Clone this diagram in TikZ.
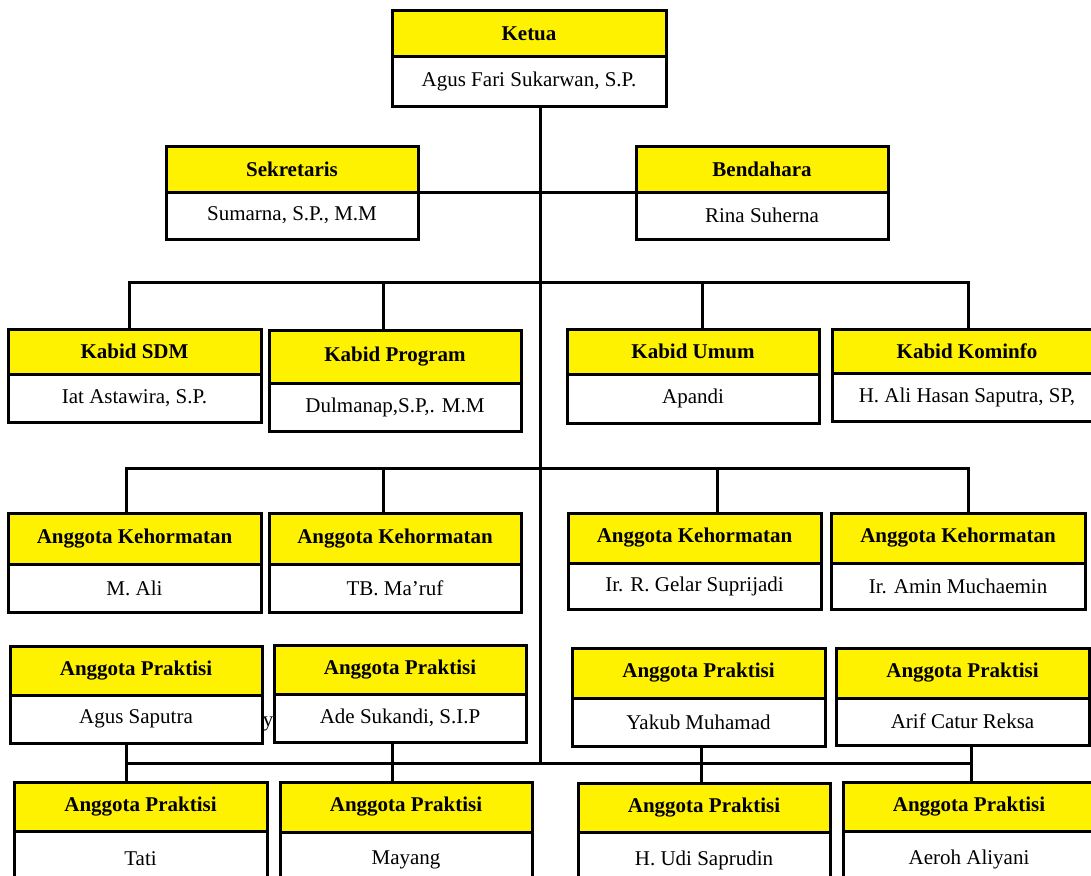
\documentclass[tikz,border=0pt]{standalone}
\usepackage{fontspec}
\setmainfont{Liberation Serif}
\usetikzlibrary{positioning}

\begin{document}
\begin{tikzpicture}[
        x=1pt, y=-1pt,
        node distance=0pt,
        head/.style={rectangle, draw, line width=3pt, fill=yellow, outer sep=0pt, anchor=north west, font=\fontsize{21}{24}\selectfont\bfseries, minimum width=253pt, minimum height=48pt},
        body/.style={rectangle, draw, line width=3pt, fill=white, outer sep=0pt, font=\fontsize{21}{24}\selectfont, minimum width=253pt, minimum height=48pt},
        link/.style={line width=3pt}
    ]
    \path[use as bounding box, clip] (0,0) rectangle (1091,875);

    % stray letter behind the boxes
    \node[font=\fontsize{21}{24}\selectfont] (stray) at (268,724) {y};

    % Level 1: Ketua
    \node[head, minimum width=274pt, minimum height=46pt] (ketua) at (392,11) {Ketua};
    \node[body, minimum width=274pt, minimum height=49pt, below=of ketua] (ketuaN) {Agus Fari Sukarwan, S.P.};

    % Level 2: Sekretaris and Bendahara
    \node[head, minimum width=252pt, minimum height=46pt] (sekr) at (166,146) {Sekretaris};
    \node[body, minimum width=252pt, minimum height=47pt, below=of sekr] (sekrN) {Sumarna, S.P., M.M};
    \node[head, minimum width=252pt, minimum height=46pt] (bend) at (636,146) {Bendahara};
    \node[body, minimum width=252pt, minimum height=47pt, below=of bend] (bendN) {Rina Suherna};

    % Level 3: Kabid
    \node[head, minimum height=45pt] (sdm) at (8,329) {Kabid SDM};
    \node[body, below=of sdm] (sdmN) {Iat Astawira, S.P.};
    \node[head, minimum width=252pt, minimum height=53pt] (program) at (269,330) {Kabid Program};
    \node[body, minimum width=252pt, below=of program] (programN) {Dulmanap,S.P,. M.M};
    \node[head, minimum width=252pt, minimum height=45pt] (umum) at (567,329) {Kabid Umum};
    \node[body, minimum width=252pt, minimum height=49pt, below=of umum] (umumN) {Apandi};
    \node[head, minimum width=270pt, minimum height=44pt] (kominfo) at (832,329) {Kabid Kominfo};
    \node[body, minimum width=270pt, below=of kominfo] (kominfoN) {H. Ali Hasan Saputra, SP,};

    % Level 4: Anggota Kehormatan
    \node[head, minimum height=51pt] (hor1) at (8,513) {Anggota Kehormatan};
    \node[body, below=of hor1] (hor1N) {M. Ali};
    \node[head, minimum width=252pt, minimum height=51pt] (hor2) at (269,513) {Anggota Kehormatan};
    \node[body, minimum width=252pt, below=of hor2] (hor2N) {TB. Ma'ruf};
    \node[head, minimum height=50pt] (hor3) at (568,513) {Anggota Kehormatan};
    \node[body, minimum height=46pt, below=of hor3] (hor3N) {Ir. R. Gelar Suprijadi};
    \node[head, minimum width=254pt, minimum height=50pt] (hor4) at (831,513) {Anggota Kehormatan};
    \node[body, minimum width=254pt, minimum height=46pt, below=of hor4] (hor4N) {Ir. Amin Muchaemin};

    % Level 5: Anggota Praktisi (upper row)
    \node[head, minimum width=252pt, minimum height=49pt] (agus) at (10,646) {Anggota Praktisi};
    \node[body, minimum width=252pt, below=of agus] (agusN) {Agus Saputra};
    \node[head, minimum width=252pt, minimum height=49pt] (ade) at (274,645) {Anggota Praktisi};
    \node[body, minimum width=252pt, below=of ade] (adeN) {Ade Sukandi, S.I.P};
    \node[head, minimum height=50pt] (yakub) at (572,648) {Anggota Praktisi};
    \node[body, below=of yakub] (yakubN) {Yakub Muhamad};
    \node[head, minimum height=50pt] (arif) at (836,648) {Anggota Praktisi};
    \node[body, minimum height=47pt, below=of arif] (arifN) {Arif Catur Reksa};

    % Level 6: Anggota Praktisi (lower row)
    \node[head, minimum height=49pt] (tati) at (14,782) {Anggota Praktisi};
    \node[body, minimum height=56pt, below=of tati] (tatiN) {Tati};
    \node[head, minimum width=252pt, minimum height=50pt] (mayang) at (280,782) {Anggota Praktisi};
    \node[body, minimum width=252pt, minimum height=56pt, below=of mayang] (mayangN) {Mayang};
    \node[head, minimum width=252pt, minimum height=49pt] (udi) at (578,783) {Anggota Praktisi};
    \node[body, minimum width=252pt, minimum height=56pt, below=of udi] (udiN) {H. Udi Saprudin};
    \node[head, minimum width=252pt, minimum height=49pt] (aeroh) at (843,782) {Anggota Praktisi};
    \node[body, minimum width=252pt, minimum height=56pt, below=of aeroh] (aerohN) {Aeroh Aliyani};

    % bus points
    \coordinate (trunk) at (540,763);
    \coordinate (s1) at (129,282);
    \coordinate (s2) at (383,282);
    \coordinate (s3) at (702,282);
    \coordinate (s4) at (968,282);
    \coordinate (k1) at (126,468);
    \coordinate (k2) at (383,468);
    \coordinate (k3) at (717,468);
    \coordinate (k4) at (968,468);
    \coordinate (p1) at (126,763);
    \coordinate (p2) at (392,763);
    \coordinate (p3) at (701,763);
    \coordinate (p4) at (971,763);

    % Connecting lines (trunk and Level 2)
    \draw[link] (trunk |- ketuaN.south) -- (trunk);
    \draw[link] (sekr.south east) -- (bend.south west);

    % Connecting lines (Level 3)
    \draw[link] (s1 |- sdm.north) -- (s1) -- (s4) -- (s4 |- kominfo.north);
    \draw[link] (s2) -- (s2 |- program.north);
    \draw[link] (s3) -- (s3 |- umum.north);

    % Connecting lines (Level 4)
    \draw[link] (k1 |- hor1.north) -- (k1) -- (k4) -- (k4 |- hor4.north);
    \draw[link] (k2) -- (k2 |- hor2.north);
    \draw[link] (k3) -- (k3 |- hor3.north);

    % Connecting lines (Level 5 to 6)
    \draw[link] (p1) -- (p4);
    \draw[link] (p1 |- agusN.south) -- (p1 |- tati.north);
    \draw[link] (p2 |- adeN.south) -- (p2 |- mayang.north);
    \draw[link] (p3 |- yakubN.south) -- (p3 |- udi.north);
    \draw[link] (p4 |- arifN.south) -- (p4 |- aeroh.north);

\end{tikzpicture}
\end{document}
